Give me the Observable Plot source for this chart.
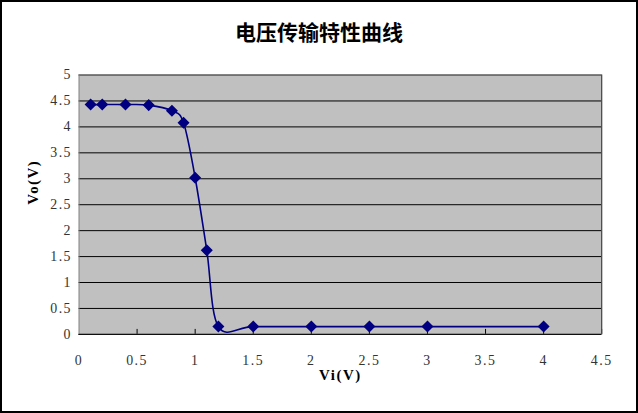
<!DOCTYPE html>
<html><head><meta charset="utf-8">
<script src="https://cdn.jsdelivr.net/npm/d3@7"></script>
<script src="https://cdn.jsdelivr.net/npm/@observablehq/plot@0.6"></script>
<style>
html,body{margin:0;padding:0;background:#fff;}
#wrap{position:relative;width:638px;height:413px;box-sizing:border-box;border:2px solid #000;overflow:hidden;}
#wrap svg{position:absolute;left:-2px;top:-2px;}
#title{position:absolute;left:0;right:0;top:14px;text-align:center;font-family:"Noto Sans CJK SC",sans-serif;font-weight:bold;font-size:21px;color:#000;z-index:2;}
</style></head>
<body><div id="wrap"><div id="title">电压传输特性曲线</div></div>
<script>
const vi = [0.1, 0.2, 0.4, 0.6, 0.8, 0.9, 1.0, 1.1, 1.2, 1.5, 2, 2.5, 3, 4];
const vo = [4.43, 4.43, 4.43, 4.42, 4.31, 4.08, 3.02, 1.62, 0.15, 0.15, 0.15, 0.15, 0.15, 0.15];
const xTicks = [0, 0.5, 1, 1.5, 2, 2.5, 3, 3.5, 4, 4.5];
const yTicks = [0, 0.5, 1, 1.5, 2, 2.5, 3, 3.5, 4, 4.5, 5];
const data = vi.map((x, i) => ({x, y: vo[i]}));
const navy = "#000080";
const chart = Plot.plot({
  width: 638, height: 413,
  marginLeft: 79, marginRight: 33, marginTop: 75, marginBottom: 77,
  style: {background: "transparent", fontFamily: "'Liberation Serif', serif", fontSize: "14px", color: "#333", letterSpacing: "1.5px"},
  x: {domain: [0, 4.5], ticks: xTicks, label: null},
  y: {domain: [0, 5], ticks: yTicks, label: null},
  marks: [
    Plot.frame({fill: "#c0c0c0"}),
    Plot.gridY(yTicks, {stroke: "#000", strokeOpacity: 1, strokeWidth: 1}),
    Plot.ruleX(xTicks.slice(1), {stroke: "#000", insetTop: 256}),
    Plot.frame({stroke: "#808080"}),
    Plot.ruleY([0], {stroke: "#000"}),
    Plot.ruleX([4.5], {stroke: "#404040"}),
    Plot.axisX(xTicks, {tickSize: 0, tickPadding: 21, tickFormat: d => String(d)}),
    Plot.axisY(yTicks, {tickSize: 0, tickPadding: 7, tickFormat: d => String(d)}),
    Plot.line(data, {x: "x", y: "y", curve: "cardinal", stroke: navy, strokeWidth: 1.6}),
    Plot.dot(data, {x: "x", y: "y", symbol: "diamond2", r: 4.5, fill: navy, stroke: navy}),
    Plot.text(["Vi(V)"], {frameAnchor: "bottom", dy: 46, text: d => d, fontWeight: "bold", fontSize: 15, fontFamily: "'Liberation Serif', serif", fill: "#000"}),
    Plot.text(["Vo(V)"], {frameAnchor: "left", dx: -46, rotate: -90, text: d => d, fontWeight: "bold", fontSize: 15, fontFamily: "'Liberation Serif', serif", fill: "#000"})
  ]
});
document.getElementById("wrap").appendChild(chart);
</script></body></html>
